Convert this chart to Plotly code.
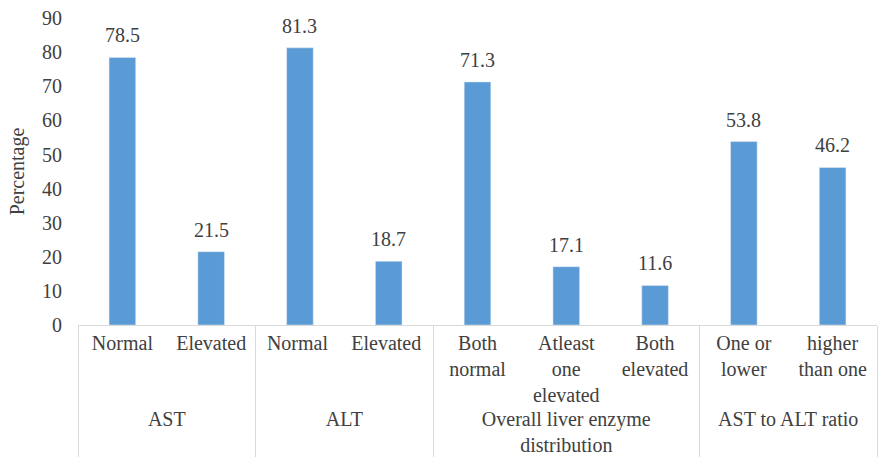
import plotly.graph_objects as go

groups = ["AST", "AST", "ALT", "ALT",
          "Overall liver enzyme<br>distribution", "Overall liver enzyme<br>distribution",
          "Overall liver enzyme<br>distribution",
          "AST to ALT ratio", "AST to ALT ratio"]
subcats = ["Normal", "Elevated", "Normal ", "Elevated ",
           "Both<br>normal", "Atleast<br>one<br>elevated", "Both<br>elevated",
           "One or<br>lower", "higher<br>than one"]
values = [78.5, 21.5, 81.3, 18.7, 71.3, 17.1, 11.6, 53.8, 46.2]
value_labels = ["78.5", "21.5", "81.3", "18.7", "71.3", "17.1", "11.6", "53.8", "46.2"]
y_ticks = [0, 10, 20, 30, 40, 50, 60, 70, 80, 90]

FONT = "'Liberation Serif', 'Times New Roman', serif"
TXT = "#404040"

fig = go.Figure(go.Bar(
    x=[groups, subcats],
    y=values,
    marker=dict(color="#5B9BD5"),
    width=0.3,
    hoverinfo="y",
))

annotations = [
    dict(x=i, y=v, xref="x", yref="y", text=lab, showarrow=False,
         yanchor="middle", yshift=22,
         font=dict(family=FONT, size=20, color=TXT))
    for i, (v, lab) in enumerate(zip(values, value_labels))
]

fig.update_layout(
    width=880, height=470,
    margin=dict(l=78, r=3, t=18, b=145),
    paper_bgcolor="white", plot_bgcolor="white",
    showlegend=False,
    font=dict(family=FONT, size=20, color=TXT),
    annotations=annotations,
)
fig.update_xaxes(
    type="multicategory",
    showline=True, linecolor="#D9D9D9", linewidth=1,
    showdividers=True, dividercolor="#D9D9D9", dividerwidth=1,
    tickfont=dict(family=FONT, size=20, color=TXT),
    ticks="",
    showgrid=False,
)
fig.update_yaxes(
    range=[0, 90.05], tickvals=y_ticks, ticktext=[str(v) for v in y_ticks],
    showgrid=False, zeroline=False, showline=False, ticks="",
    ticklabelstandoff=15,
    tickfont=dict(family=FONT, size=20, color=TXT),
    title=dict(text="Percentage", font=dict(family=FONT, size=20, color=TXT), standoff=12),
)

# remove the default 8px page margin so the 880x470 figure fills the window
fig.write_html("out.html", config={"displayModeBar": False},
               post_script="document.body.style.margin='0px';")
